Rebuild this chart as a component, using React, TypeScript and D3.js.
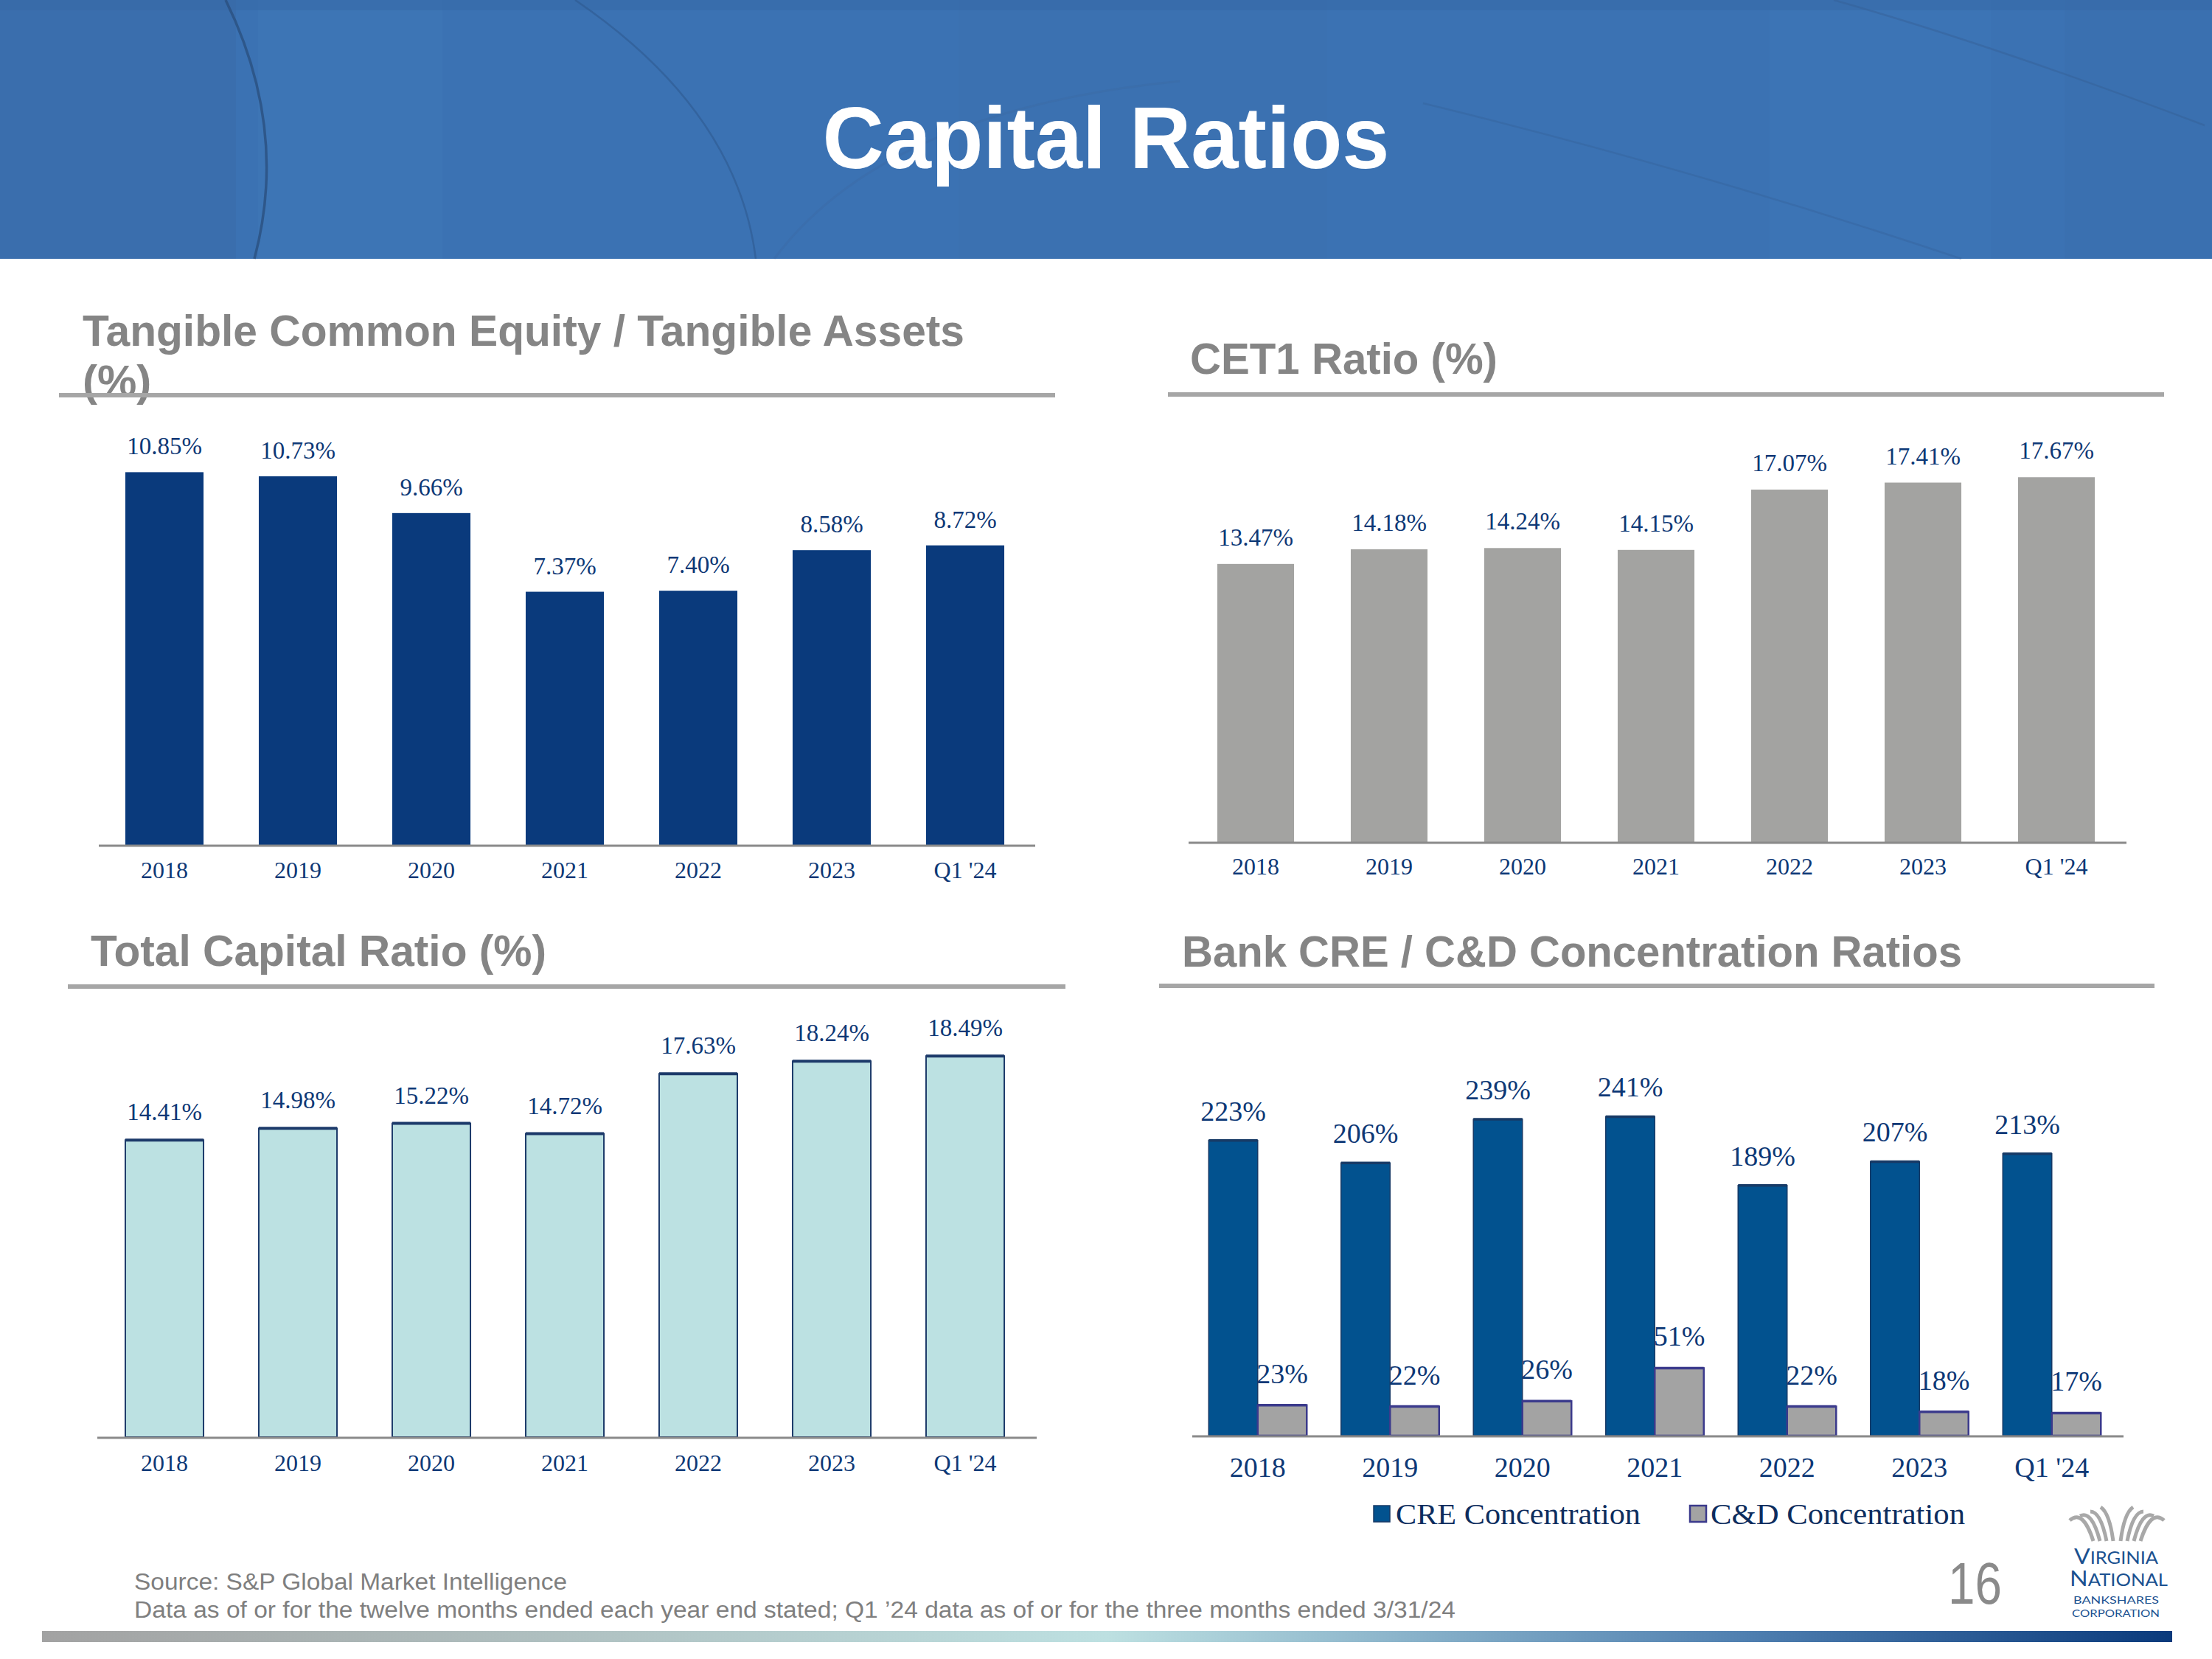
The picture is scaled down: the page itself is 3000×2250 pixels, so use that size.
import React from "react";
import * as d3 from "d3";

const categories = ["2018", "2019", "2020", "2021", "2022", "2023", "Q1 '24"];
const tceValues = [10.85, 10.73, 9.66, 7.37, 7.4, 8.58, 8.72];
const cet1Values = [13.47, 14.18, 14.24, 14.15, 17.07, 17.41, 17.67];
const totalCapitalValues = [14.41, 14.98, 15.22, 14.72, 17.63, 18.24, 18.49];
const creValues = [223, 206, 239, 241, 189, 207, 213];
const cdValues = [23, 22, 26, 51, 22, 18, 17];
const seriesNames = ["CRE Concentration", "C&D Concentration"];

const SANS = "'Liberation Sans', Arial, sans-serif";
const SERIF = "'Liberation Serif', 'Times New Roman', serif";
const NAVY = "#0d3876";
const TITLE_GRAY = "#858585";
const RULE_GRAY = "#a6a6a6";
const AXIS_GRAY = "#8a8a8a";

type SimpleProps = {
  values: number[];
  x0: number;
  x1: number;
  baseline: number;
  domainMax: number;
  topY: number;
  padding: number;
  fill: string;
  stroke?: string;
  topStroke?: string;
  labelGap: number;
  axisX0: number;
  axisX1: number;
  catBaseline: number;
};

function SimpleBars(p: SimpleProps) {
  const x = d3.scaleBand<string>().domain(categories).range([p.x0, p.x1]).paddingInner(p.padding).paddingOuter(p.padding / 2);
  const y = d3.scaleLinear().domain([0, p.domainMax]).range([p.baseline, p.topY]);
  return (
    <g>
      {p.values.map((v, i) => {
        const c = categories[i];
        const bx = x(c) as number;
        const by = y(v);
        return (
          <g key={c}>
            <rect x={bx} y={by} width={x.bandwidth()} height={p.baseline - by} fill={p.fill} stroke={p.stroke || "none"} strokeWidth={p.stroke ? 2 : 0} />
            {p.topStroke && <line x1={bx} x2={bx + x.bandwidth()} y1={by} y2={by} stroke={p.topStroke} strokeWidth={4} />}
            <text x={bx + x.bandwidth() / 2} y={by - p.labelGap} textAnchor="middle" fontFamily={SERIF} fontSize={33} fill={NAVY}>
              {v.toFixed(2) + "%"}
            </text>
            <text x={bx + x.bandwidth() / 2} y={p.catBaseline} textAnchor="middle" fontFamily={SERIF} fontSize={32} fill={NAVY}>
              {c}
            </text>
          </g>
        );
      })}
      <line x1={p.axisX0} x2={p.axisX1} y1={p.baseline + 1} y2={p.baseline + 1} stroke={AXIS_GRAY} strokeWidth={3} />
    </g>
  );
}

function ChartTitle({ lines, x, y, lengths, ruleX0, ruleX1, ruleY }: { lines: string[]; x: number; y: number; lengths: (number | undefined)[]; ruleX0: number; ruleX1: number; ruleY: number }) {
  return (
    <g>
      {lines.map((l, i) => (
        <text key={i} x={x} y={y + i * 68} fontFamily={SANS} fontWeight="bold" fontSize={60} fill={TITLE_GRAY} textLength={lengths[i]} lengthAdjust={lengths[i] ? "spacingAndGlyphs" : undefined}>
          {l}
        </text>
      ))}
      <line x1={ruleX0} x2={ruleX1} y1={ruleY} y2={ruleY} stroke={RULE_GRAY} strokeWidth={6} />
    </g>
  );
}

function ConcentrationChart() {
  const x0 = d3.scaleBand<string>().domain(categories).range([1616, 2872.5]).paddingInner(0.259).paddingOuter(0.1295);
  const x1 = d3.scaleBand<string>().domain(seriesNames).range([0, x0.bandwidth()]);
  const baseline = 1947;
  const y = d3.scaleLinear().domain([0, 300]).range([baseline, baseline - 300 * 1.795]);
  const series = [creValues, cdValues];
  const fills = ["#02528f", "#a3a3a3"];
  const strokes = ["#173a66", "#3b3a8c"];
  return (
    <g>
      {/* C&D labels first (partially covered by CRE bars, as in the original) */}
      {cdValues.map((v, i) => {
        const c = categories[i];
        const bx = (x0(c) as number) + (x1(seriesNames[1]) as number);
        return (
          <text key={"cdl" + c} x={bx + x1.bandwidth() / 2} y={y(v) - 30} textAnchor="middle" fontFamily={SERIF} fontSize={38} fill={NAVY}>
            {v + "%"}
          </text>
        );
      })}
      {series.map((vals, s) =>
        vals.map((v, i) => {
          const c = categories[i];
          const bx = (x0(c) as number) + (x1(seriesNames[s]) as number);
          const by = y(v);
          return (
            <g key={s + c}>
              <rect x={bx} y={by} width={x1.bandwidth()} height={baseline - by} fill={fills[s]} stroke={strokes[s]} strokeWidth={s === 0 ? 1.5 : 2.5} />
              <line x1={bx} x2={bx + x1.bandwidth()} y1={by} y2={by} stroke={strokes[s]} strokeWidth={3.5} />
            </g>
          );
        })
      )}
      {creValues.map((v, i) => {
        const c = categories[i];
        const bx = (x0(c) as number) + (x1(seriesNames[0]) as number);
        return (
          <text key={"crel" + c} x={bx + x1.bandwidth() / 2} y={y(v) - 27} textAnchor="middle" fontFamily={SERIF} fontSize={38} fill={NAVY}>
            {v + "%"}
          </text>
        );
      })}
      {categories.map((c) => (
        <text key={"cat" + c} x={(x0(c) as number) + x0.bandwidth() / 2} y={2003} textAnchor="middle" fontFamily={SERIF} fontSize={38} fill={NAVY}>
          {c}
        </text>
      ))}
      <line x1={1617} x2={2880} y1={baseline + 1} y2={baseline + 1} stroke={AXIS_GRAY} strokeWidth={3} />
      {/* legend */}
      <rect x={1863} y={2042} width={22} height={22} fill={fills[0]} stroke={strokes[0]} strokeWidth={1.5} />
      <text x={1893} y={2067} fontFamily={SERIF} fontSize={41} fill="#0d2d5e" textLength={332} lengthAdjust="spacingAndGlyphs">
        {seriesNames[0]}
      </text>
      <rect x={2292} y={2042} width={22} height={22} fill={fills[1]} stroke={strokes[1]} strokeWidth={2.5} />
      <text x={2320} y={2067} fontFamily={SERIF} fontSize={41} fill="#0d2d5e" textLength={345} lengthAdjust="spacingAndGlyphs">
        {seriesNames[1]}
      </text>
    </g>
  );
}

function Header() {
  return (
    <g>
      <rect x={0} y={0} width={3000} height={351} fill="#3b72b3" />
      <rect x={0} y={0} width={320} height={351} fill="#3a6aa6" opacity={0.45} />
      <rect x={350} y={0} width={250} height={351} fill="#3f78b8" opacity={0.5} />
      <rect x={1300} y={0} width={500} height={351} fill="#3d6fae" opacity={0.35} />
      <rect x={2400} y={0} width={300} height={351} fill="#3e77ba" opacity={0.4} />
      <rect x={2800} y={0} width={200} height={351} fill="#3a6eab" opacity={0.35} />
      <rect x={0} y={0} width={3000} height={14} fill="#3668a6" opacity={0.5} />
      <path d="M 306 0 Q 392 175 345 351" fill="none" stroke="#2a5080" strokeWidth={3.5} opacity={0.8} />
      <path d="M 780 0 Q 1000 150 1025 351" fill="none" stroke="#2f5a8f" strokeWidth={2.5} opacity={0.6} />
      <path d="M 2487 0 Q 2700 60 2990 170" fill="none" stroke="#355f95" strokeWidth={2.5} opacity={0.45} />
      <path d="M 1930 140 Q 2300 230 2660 351" fill="none" stroke="#355f95" strokeWidth={2.5} opacity={0.35} />
      <path d="M 1050 351 Q 1200 150 1600 110" fill="none" stroke="#3a67a0" strokeWidth={3} opacity={0.3} />
      <text x={1500} y={228} textAnchor="middle" fontFamily={SANS} fontWeight="bold" fontSize={118} fill="#ffffff" textLength={769} lengthAdjust="spacingAndGlyphs">
        Capital Ratios
      </text>
    </g>
  );
}

function Logo() {
  const cx = 2871;
  const strokes = [0, 1, 2, 3];
  return (
    <g>
      {strokes.map((i) => (
        <g key={i}>
          <path d={`M ${cx - 5 - i * 9} 2090 Q ${cx - 10 - i * 12} ${2052 - i * 2} ${cx - 22 - i * 14} ${2044 + i * 6}`} fill="none" stroke="#a8a8a8" strokeWidth={5} />
          <path d={`M ${cx + 5 + i * 9} 2090 Q ${cx + 10 + i * 12} ${2052 - i * 2} ${cx + 22 + i * 14} ${2044 + i * 6}`} fill="none" stroke="#a8a8a8" strokeWidth={5} />
        </g>
      ))}
      <text x={2813} y={2121} fontFamily="'Lato', 'DejaVu Sans', sans-serif" fill="#1b5190" textLength={114} lengthAdjust="spacingAndGlyphs">
        <tspan fontSize={29}>V</tspan>
        <tspan fontSize={23}>IRGINIA</tspan>
      </text>
      <text x={2807} y={2151} fontFamily="'Lato', 'DejaVu Sans', sans-serif" fill="#1b5190" textLength={133} lengthAdjust="spacingAndGlyphs">
        <tspan fontSize={29}>N</tspan>
        <tspan fontSize={23}>ATIONAL</tspan>
      </text>
      <text x={2812} y={2175} fontFamily="'Lato', 'DejaVu Sans', sans-serif" fontSize={14} fill="#1b5190" textLength={116} lengthAdjust="spacingAndGlyphs">
        BANKSHARES
      </text>
      <text x={2810} y={2193} fontFamily="'Lato', 'DejaVu Sans', sans-serif" fontSize={14} fill="#1b5190" textLength={119} lengthAdjust="spacingAndGlyphs">
        CORPORATION
      </text>
    </g>
  );
}

export default function App() {
  return (
    <svg width={3000} height={2250} viewBox="0 0 3000 2250" style={{ position: "absolute", left: 0, top: 0, display: "block", background: "#ffffff" }}>
      <defs>
        <linearGradient id="footGrad" x1="0" x2="1" y1="0" y2="0">
          <stop offset="0" stopColor="#a2a2a2" />
          <stop offset="0.5" stopColor="#bde0e1" />
          <stop offset="0.8" stopColor="#4f7fb0" />
          <stop offset="1" stopColor="#0a3a7c" />
        </linearGradient>
      </defs>
      <rect x={0} y={0} width={3000} height={2250} fill="#ffffff" />
      <Header />

      <ChartTitle lines={["Tangible Common Equity / Tangible Assets", "(%)"]} x={112} y={469} lengths={[1196, undefined]} ruleX0={80} ruleX1={1431} ruleY={536} />
      <SimpleBars values={tceValues} x0={132.5} x1={1399.5} baseline={1146} domainMax={12} topY={1146 - 12 * 46.6} padding={0.414} fill="#0a3a7c" labelGap={24} axisX0={134} axisX1={1404} catBaseline={1191} />

      <ChartTitle lines={["CET1 Ratio (%)"]} x={1614} y={507} lengths={[417]} ruleX0={1584} ruleX1={2935} ruleY={535} />
      <SimpleBars values={cet1Values} x0={1612.5} x1={2879.5} baseline={1142} domainMax={20} topY={1142 - 20 * 28} padding={0.425} fill="#a3a3a1" labelGap={25} axisX0={1612} axisX1={2884} catBaseline={1186} />

      <ChartTitle lines={["Total Capital Ratio (%)"]} x={123} y={1310} lengths={[618]} ruleX0={92} ruleX1={1445} ruleY={1338} />
      <SimpleBars values={totalCapitalValues} x0={132.5} x1={1399.5} baseline={1949} domainMax={20} topY={1949 - 20 * 27.95} padding={0.414} fill="#bce1e2" stroke="#1c3a6a" topStroke="#1c3a6a" labelGap={27} axisX0={132} axisX1={1406} catBaseline={1995} />

      <ChartTitle lines={["Bank CRE / C&D Concentration Ratios"]} x={1603} y={1311} lengths={[1058]} ruleX0={1572} ruleX1={2922} ruleY={1337} />
      <ConcentrationChart />

      {/* footer */}
      <text x={182} y={2156} fontFamily={SANS} fontSize={31} fill="#7f7f7f" textLength={587} lengthAdjust="spacingAndGlyphs">
        Source: S&amp;P Global Market Intelligence
      </text>
      <text x={182} y={2194} fontFamily={SANS} fontSize={31} fill="#7f7f7f" textLength={1792} lengthAdjust="spacingAndGlyphs">
        Data as of or for the twelve months ended each year end stated; Q1 ’24 data as of or for the three months ended 3/31/24
      </text>
      <text x={2642} y={2175} fontFamily={SANS} fontSize={80} fill="#8a8a8a" textLength={73} lengthAdjust="spacingAndGlyphs">
        16
      </text>
      <Logo />
      <rect x={57} y={2212} width={2889} height={15} fill="url(#footGrad)" />
    </svg>
  );
}
